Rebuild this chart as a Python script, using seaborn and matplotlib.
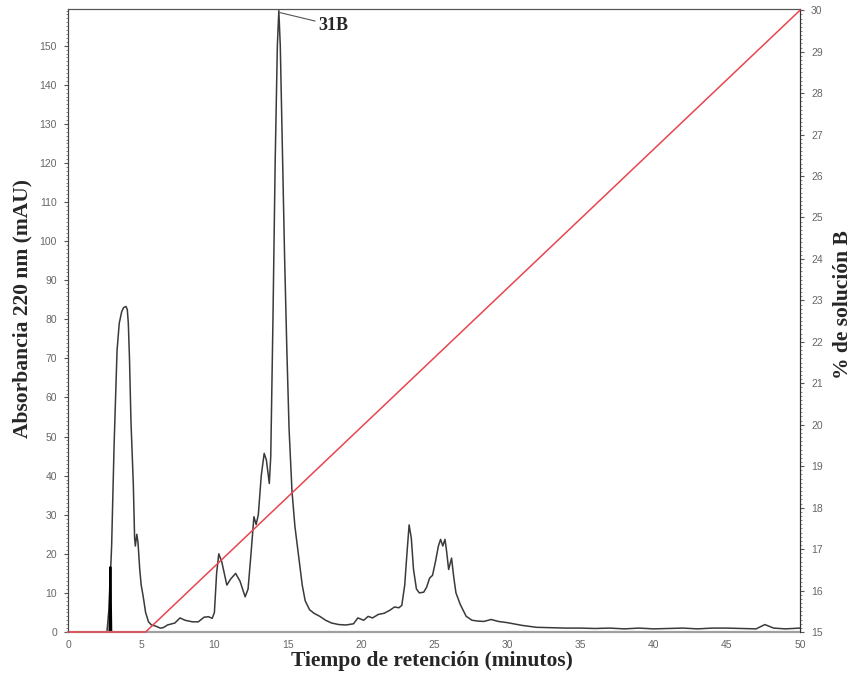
import matplotlib
matplotlib.use("Agg")
import matplotlib.pyplot as plt
import seaborn as sns
import pandas as pd
from matplotlib.ticker import MultipleLocator

# ── Data ─────────────────────────────────────────────────────
tiempo = [
    0, 2.6, 2.66, 2.8, 2.98, 3.15, 3.35, 3.5, 3.67, 3.8,
    3.96, 4.05, 4.12, 4.2, 4.3, 4.46, 4.55, 4.6, 4.7, 4.78,
    4.9, 5.0, 5.14, 5.3, 5.5, 5.7, 6.0, 6.3, 6.5, 6.8,
    7.0, 7.3, 7.65, 8.0, 8.5, 8.9, 9.3, 9.6, 9.85, 10.0,
    10.15, 10.3, 10.5, 10.85, 11.1, 11.45, 11.75, 12.1, 12.3, 12.5,
    12.7, 12.85, 13.0, 13.2, 13.4, 13.55, 13.75, 13.85, 14.0, 14.15,
    14.3, 14.4, 14.5, 14.66, 14.8, 14.95, 15.1, 15.3, 15.5, 15.7,
    15.85, 16.0, 16.2, 16.5, 16.8, 17.2, 17.6, 18.0, 18.5, 19.0,
    19.5, 19.8, 20.2, 20.5, 20.8, 21.2, 21.6, 22.0, 22.3, 22.6,
    22.8, 23.0, 23.15, 23.3, 23.45, 23.6, 23.8, 24.0, 24.3, 24.5,
    24.7, 24.9, 25.1, 25.3, 25.45, 25.6, 25.75, 25.85, 26.0, 26.2,
    26.35, 26.5, 26.8, 27.2, 27.6, 28.0, 28.4, 28.9, 29.4, 30.0,
    31.0, 32.0, 33.0, 34.0, 35.0, 36.0, 37.0, 38.0, 39.0, 40.0,
    41.0, 42.0, 43.0, 44.0, 45.0, 46.0, 47.0, 47.6, 48.2, 49.0,
    50.0,
]
absorbancia = [
    0, 0, 0, 6, 22, 48, 72, 79, 82, 83,
    83.3, 82.5, 79, 70, 54, 38, 24, 22, 25, 23,
    16, 12, 9, 5, 2.6, 1.8, 1.5, 1.0, 1.1, 1.8,
    2.0, 2.3, 3.6, 3.0, 2.6, 2.6, 3.8, 3.9, 3.5, 5,
    15, 20, 18, 12, 13.5, 15, 13, 9, 11, 20,
    29.5, 27.5, 30, 40, 45.7, 44, 38, 45, 80, 120,
    150, 159, 150, 120, 95, 72, 52, 36, 27, 21,
    16.6, 12, 8, 5.7, 4.8, 4, 3, 2.3, 1.9, 1.8,
    2.1, 3.6, 3.0, 4.0, 3.6, 4.5, 4.8, 5.6, 6.4, 6.2,
    6.8, 12, 20, 27.4, 24, 16, 11, 10, 10.2, 11.5,
    13.8, 14.5, 18, 22, 23.7, 22, 23.7, 21, 16, 18.9,
    14, 10, 7, 4, 3.0, 2.8, 2.7, 3.2, 2.7, 2.4,
    1.7, 1.2, 1.1, 1.0, 1.0, 0.9, 1.0, 0.8, 1.0, 0.8,
    0.9, 1.0, 0.8, 1.0, 1.0, 0.9, 0.8, 1.9, 1.0, 0.8,
    1.0,
]

# narrow injection spike drawn in black
pico_t = [2.84, 2.89, 2.95]
pico_abs = [0, 16.6, 0]

# gradient programme (% solution B)
gradiente_t = [0, 5.3, 50]
gradiente_b = [15, 15, 30]

PICO_PRINCIPAL = ("31B", 14.45, 158.5)

df_abs = pd.DataFrame({"t": tiempo, "a": absorbancia})
df_pico = pd.DataFrame({"t": pico_t, "a": pico_abs})
df_grad = pd.DataFrame({"t": gradiente_t, "b": gradiente_b})

# ── Figure ───────────────────────────────────────────────────
sns.set_style("white")
plt.rcParams["font.family"] = ["Liberation Sans", "DejaVu Sans"]

fig = plt.figure(figsize=(8.55, 6.76), dpi=100)
ax = fig.add_axes([68 / 855, 1 - 632 / 676, 732 / 855, 623 / 676])

sns.lineplot(data=df_abs, x="t", y="a", ax=ax, color="#3a3a3a", lw=1.1,
             sort=False, estimator=None)
sns.lineplot(data=df_pico, x="t", y="a", ax=ax, color="black", lw=1.6,
             sort=False, estimator=None)

ax.set_xlim(0, 50)
ax.set_ylim(0, 159.4)
ax.set_xlabel("")
ax.set_ylabel("")
ax.xaxis.set_major_locator(MultipleLocator(5))
ax.yaxis.set_minor_locator(MultipleLocator(1))
ax.set_yticks(range(0, 151, 10))
ax.tick_params(axis="y", which="major", length=3, width=0.8, color="#555",
               labelsize=7.5, labelcolor="#666", pad=5, left=True)
ax.tick_params(axis="y", which="minor", length=1.5, width=0.6, color="#777",
               left=True)
ax.tick_params(axis="x", length=0, labelsize=7.5, labelcolor="#666", pad=6)

ax2 = ax.twinx()
sns.lineplot(data=df_grad, x="t", y="b", ax=ax2, color="#e8454f", lw=1.1,
             sort=False, estimator=None, zorder=4, clip_on=False)
ax2.set_ylim(15, 30.03)
ax2.set_ylabel("")
ax2.yaxis.set_major_locator(MultipleLocator(1))
ax2.yaxis.set_minor_locator(MultipleLocator(0.1))
ax2.tick_params(axis="y", which="major", length=3, width=0.8, color="#555",
                labelsize=7.5, labelcolor="#666", pad=5, right=True)
ax2.tick_params(axis="y", which="minor", length=1.5, width=0.6, color="#777",
                right=True)

for a in (ax, ax2):
    a.spines["top"].set_color("#555")
    a.spines["left"].set_color("#444")
    a.spines["right"].set_color("#333")
    a.spines["bottom"].set_color("#a0a0a0")
    a.spines["bottom"].set_linewidth(1.6)
    for s in a.spines.values():
        s.set_visible(True)
ax2.spines["bottom"].set_visible(False)

# peak label
etiqueta, px, py = PICO_PRINCIPAL
ax.annotate(etiqueta, xy=(px, py), xytext=(17.1, 155.2),
            ha="left", va="center", fontsize=13, fontweight="bold",
            family=["Liberation Serif", "DejaVu Serif"],
            arrowprops=dict(arrowstyle="-", color="#555", lw=0.8,
                            shrinkA=0, shrinkB=0))

serif = ["Liberation Serif", "DejaVu Serif"]
fig.text(0.5 * (286 + 578) / 855, 1 - 661 / 676, "Tiempo de retención (minutos)",
         ha="center", va="center", fontsize=15.5, fontweight="bold", family=serif)
fig.text(22 / 855, 1 - 308 / 676, "Absorbancia 220 nm (mAU)", rotation=90,
         ha="center", va="center", fontsize=15.5, fontweight="bold", family=serif)
fig.text(843 / 855, 1 - 305 / 676, "% de solución B", rotation=90,
         ha="center", va="center", fontsize=15.5, fontweight="bold", family=serif)

fig.savefig("out.png", dpi=100)
